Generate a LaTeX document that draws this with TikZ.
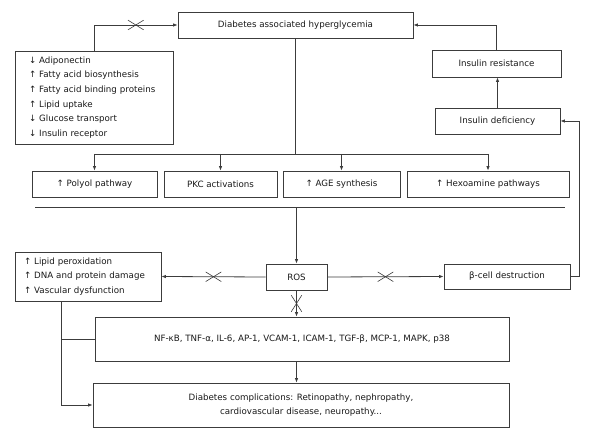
\documentclass[tikz,border=0pt]{standalone}
\usepackage{fontspec}
\setmainfont{DejaVu Sans}
\usetikzlibrary{arrows.meta,shapes.misc}
\definecolor{ln}{RGB}{60,60,60}
\definecolor{tx}{RGB}{25,25,25}
\begin{document}
\begin{tikzpicture}[x=1pt,y=-1pt,
  box/.style={draw=ln, line width=0.8pt, text=tx, font=\fontsize{8.7}{10.5}\selectfont, inner sep=0pt, align=center, minimum height=26pt},
  listbox/.style={box, align=left, font=\fontsize{8.7}{14.6}\selectfont},
  arr/.style={draw=ln, line width=0.8pt, -{Latex[length=4.5pt,width=3.5pt]}},
  con/.style={draw=ln, line width=0.8pt},
  xmark/.style={cross out, draw=ln, line width=0.6pt, minimum width=15pt, minimum height=9pt, inner sep=0pt},
  xmarkv/.style={xmark, minimum width=10pt, minimum height=16pt}]
\useasboundingbox (0,0) rectangle (600,441);

% nodes
\node[box, minimum width=235pt] (top) at (295.5,25) {Diabetes associated hyperglycemia};
\node[listbox, minimum width=158pt, minimum height=93pt, text width=130pt] (list1) at (94,97.5)
  {↓ Adiponectin\\↑ Fatty acid biosynthesis\\↑ Fatty acid binding proteins\\↑ Lipid uptake\\↓ Glucose transport\\↓ Insulin receptor};
\node[box, minimum width=129pt, minimum height=27pt] (insres) at (496.5,63.5) {Insulin resistance};
\node[box, minimum width=125pt] (insdef) at (497.5,121) {Insulin deficiency};

\node[box, minimum width=125pt] (b1) at (94.5,184) {↑ Polyol pathway};
\node[box, minimum width=113pt] (b2) at (220.5,184) {PKC activations};
\node[box, minimum width=117pt] (b3) at (341.5,184) {↑ AGE synthesis};
\node[box, minimum width=162pt] (b4) at (488,184) {↑ Hexoamine pathways};

\coordinate (sepL) at (35,207);
\coordinate (sepR) at (565,207);
\coordinate (bus) at (0,154);

\node[box, minimum width=61pt] (ros) at (296.5,277) {ROS};
\node[listbox, minimum width=146pt, minimum height=49pt, text width=128pt] (list2) at (88,276.5)
  {↑ Lipid peroxidation\\↑ DNA and protein damage\\↑ Vascular dysfunction};
\node[box, minimum width=126pt, minimum height=25pt] (beta) at (507,276.5) {β-cell destruction};

\node[box, minimum width=414pt, minimum height=44pt] (nf) at (302,339)
  {NF-κB, TNF-α, IL-6, AP-1, VCAM-1, ICAM-1, TGF-β, MCP-1, MAPK, p38};
\node[box, minimum width=416pt, minimum height=44pt, font=\fontsize{8.7}{14.2}\selectfont] (comp) at (301,405)
  {Diabetes complications: Retinopathy, nephropathy,\\cardiovascular disease, neuropathy...};

\coordinate (lj) at (61,301);
\coordinate (rj) at (579,276.5);

% connectors
\draw[arr] (list1.north) |- node[xmark, pos=0.75]{} (top.west);
\draw[arr] (insres.north) |- (top.east);
\draw[arr] (insdef.north) -- (insdef.north |- insres.south);
\draw[arr] (beta.east) -- (rj) |- (insdef.east);

\draw[con] (top.south) -- (top.south |- bus);
\draw[con] (b1.north |- bus) -- (b4.north |- bus);
\draw[arr] (b1.north |- bus) -- (b1.north);
\draw[arr] (b2.north |- bus) -- (b2.north);
\draw[arr] (b3.north |- bus) -- (b3.north);
\draw[arr] (b4.north |- bus) -- (b4.north);

\draw[con] (sepL) -- (sepR);
\draw[arr] (ros.north |- sepL) -- (ros.north);

\draw[arr] (ros.west) -- node[xmark]{} (list2.east);
\draw[arr] (ros.east) -- node[xmark]{} (beta.west);
\draw[arr] (ros.south) -- node[xmarkv]{} (ros.south |- nf.north);
\draw[arr] (ros.south |- nf.south) -- (ros.south |- comp.north);

\draw[arr] (lj) |- (comp.west);
\draw[con] (lj |- nf.west) -- (nf.west);
\end{tikzpicture}
\end{document}
